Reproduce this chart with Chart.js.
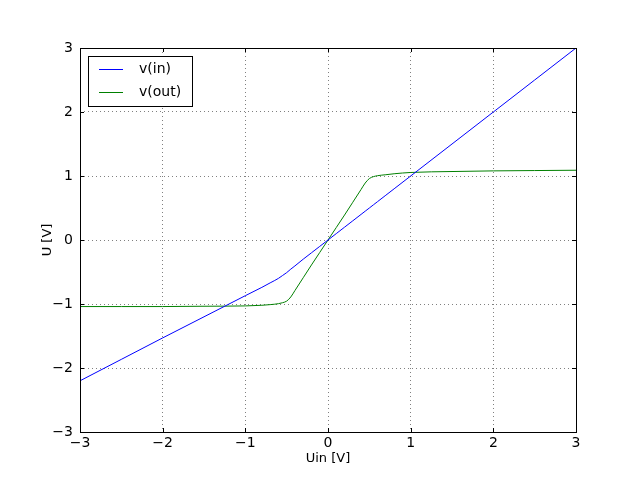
<!DOCTYPE html>
<html>
<head>
<meta charset="utf-8">
<script src="https://cdn.jsdelivr.net/npm/chart.js@4/dist/chart.umd.min.js"></script>
<style>
  html, body { margin: 0; padding: 0; background: #fff; }
  #wrap { width: 640px; height: 480px; }
</style>
</head>
<body>
<div id="wrap"><canvas id="c" width="640" height="480"></canvas></div>
<script>
// sample points (Uin in volts)
const uin = [-3, -2.5, -2, -1.5, -1, -0.8, -0.7, -0.6, -0.55, -0.5, -0.45, -0.4, -0.3, -0.2, -0.1, 0,
  0.1, 0.2, 0.3, 0.4, 0.45, 0.5, 0.55, 0.6, 0.7, 0.8, 1, 1.5, 2, 2.5, 3];
const vIn = [-2.2, -1.865, -1.53, -1.2, -0.87, -0.74, -0.67, -0.6, -0.555, -0.51, -0.455, -0.405, -0.3, -0.2, -0.1, 0,
  0.1, 0.2, 0.3, 0.4, 0.45, 0.5, 0.55, 0.6, 0.7, 0.8, 1, 1.5, 2, 2.5, 3];
const vOut = [-1.04, -1.04, -1.04, -1.035, -1.03, -1.02, -1.01, -0.995, -0.98, -0.955, -0.89, -0.79, -0.59, -0.39, -0.195, 0,
  0.195, 0.39, 0.59, 0.79, 0.89, 0.96, 0.99, 1.005, 1.02, 1.035, 1.055, 1.07, 1.08, 1.085, 1.09];
const seriesNames = ['v(in)', 'v(out)'];
const seriesColors = ['#0000ff', '#008000'];
const axisTicks = [-3, -2, -1, 0, 1, 2, 3];

const FONT = 'DejaVu Sans';

function fmt(v) {
  return v < 0 ? '\u2212' + Math.abs(v) : String(v);
}

function toPoints(ys) {
  return uin.map((x, i) => ({ x, y: ys[i] }));
}

// frame, inward tick marks and the legend box, matplotlib style
const framePlugin = {
  id: 'frame',
  afterDraw(chart) {
    const { ctx, chartArea: a, scales } = chart;
    ctx.save();
    ctx.strokeStyle = '#000';
    ctx.lineWidth = 1;
    ctx.strokeRect(a.left + 0.5, a.top + 0.5, a.right - a.left, a.bottom - a.top);

    ctx.beginPath();
    axisTicks.forEach(v => {
      const px = Math.round(scales.x.getPixelForValue(v)) + 0.5;
      ctx.moveTo(px, a.bottom); ctx.lineTo(px, a.bottom - 4);
      ctx.moveTo(px, a.top); ctx.lineTo(px, a.top + 4);
      const py = Math.round(scales.y.getPixelForValue(v)) + 0.5;
      ctx.moveTo(a.left, py); ctx.lineTo(a.left + 4, py);
      ctx.moveTo(a.right, py); ctx.lineTo(a.right - 4, py);
    });
    ctx.stroke();

    // legend
    const lx = a.left + 8, ly = a.top + 8;
    ctx.fillStyle = '#fff';
    ctx.fillRect(lx, ly, 104, 50);
    ctx.strokeRect(lx + 0.5, ly + 0.5, 104, 50);
    ctx.font = '14px "' + FONT + '"';
    ctx.textBaseline = 'middle';
    seriesNames.forEach((name, i) => {
      const y = ly + 13.5 + i * 23;
      ctx.strokeStyle = seriesColors[i];
      ctx.beginPath();
      ctx.moveTo(lx + 11, y); ctx.lineTo(lx + 35, y);
      ctx.stroke();
      ctx.fillStyle = '#000';
      ctx.fillText(name, lx + 51, y);
    });
    ctx.restore();
  }
};

const gridOpts = {
  color: '#000',
  lineWidth: 0.5,
  drawTicks: false,
};

new Chart(document.getElementById('c'), {
  type: 'line',
  data: {
    datasets: [vIn, vOut].map((ys, i) => ({
      label: seriesNames[i],
      data: toPoints(ys),
      borderColor: seriesColors[i],
      borderWidth: 1,
      pointRadius: 0,
      cubicInterpolationMode: 'monotone',
      fill: false,
    })),
  },
  options: {
    responsive: false,
    animation: false,
    layout: { padding: { top: 48, right: 64, left: 0, bottom: 0 } },
    plugins: { legend: { display: false }, tooltip: { enabled: false } },
    scales: {
      x: {
        type: 'linear',
        min: -3, max: 3,
        afterFit(s) { s.height = 48; },
        afterBuildTicks(s) { s.ticks = axisTicks.map(value => ({ value })); },
        grid: gridOpts,
        border: { display: false, dash: [1, 3] },
        ticks: { color: '#000', font: { family: FONT, size: 14 }, padding: 3, callback: fmt, maxRotation: 0 },
        title: { display: true, text: 'Uin [V]', color: '#000', font: { family: FONT, size: 13 }, padding: { top: 0, bottom: 14 } },
      },
      y: {
        type: 'linear',
        min: -3, max: 3,
        afterFit(s) { s.width = 80; },
        afterBuildTicks(s) { s.ticks = axisTicks.map(value => ({ value })); },
        grid: gridOpts,
        border: { display: false, dash: [1, 3] },
        ticks: { color: '#000', font: { family: FONT, size: 14 }, padding: 7, callback: fmt },
        title: { display: true, text: 'U [V]', color: '#000', font: { family: FONT, size: 13 }, padding: { top: 40, bottom: 0 } },
      },
    },
  },
  plugins: [framePlugin],
});
</script>
</body>
</html>
